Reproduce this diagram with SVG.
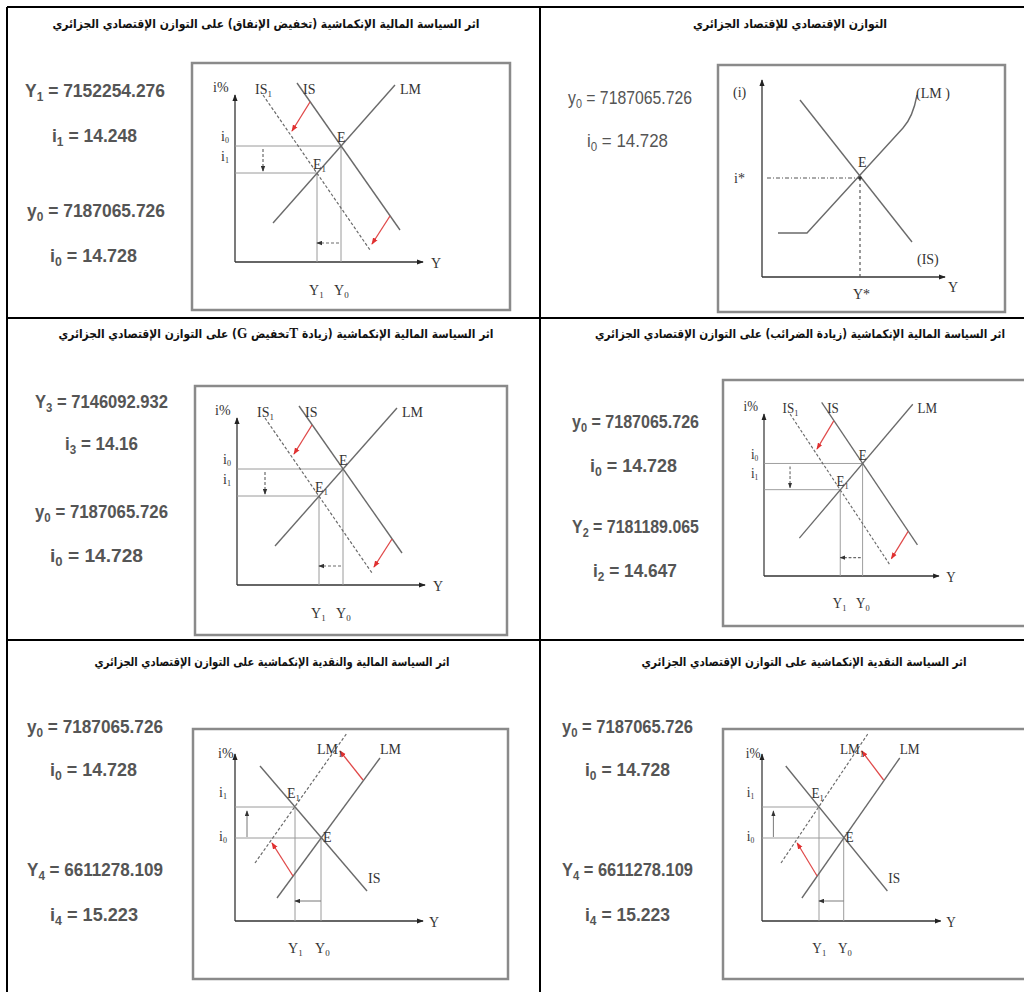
<svg xmlns="http://www.w3.org/2000/svg" xmlns:xlink="http://www.w3.org/1999/xlink" width="1024" height="992" viewBox="0 0 1024 992">
<style>
.grid{stroke:#000;stroke-width:2;fill:none}
.frame{stroke:#8a8a8a;stroke-width:2.5;fill:#fff}
.ax{stroke:#333;stroke-width:1.3;fill:none}
.cv{stroke:#6a6a6a;stroke-width:1.4;fill:none}
.ds{stroke:#6a6a6a;stroke-width:1.2;stroke-dasharray:3 2;fill:none}
.gl{stroke:#9a9a9a;stroke-width:1;fill:none}
.sm{stroke:#777;stroke-width:1;fill:none}
.red{stroke:#e04848;stroke-width:1.3;fill:none}
.lb{font-family:"Liberation Serif",serif;font-size:14px;fill:#333}
.val{font-family:"Liberation Sans",sans-serif;font-size:19px;font-weight:bold;fill:#555}
.ttl{font-family:"DejaVu Sans","Noto Sans",sans-serif;font-size:12px;font-weight:bold;fill:#111;direction:rtl;unicode-bidi:embed;text-anchor:middle}
.lat{font-family:"Liberation Serif",serif;font-weight:bold;font-size:15px}
</style>
<defs>
<marker id="ah" viewBox="0 0 8 6" refX="7" refY="3" markerWidth="7" markerHeight="5.5" markerUnits="userSpaceOnUse" orient="auto"><path d="M0,0 L8,3 L0,6 z" fill="#222"/></marker>
<marker id="ahs" viewBox="0 0 8 6" refX="7" refY="3" markerWidth="6" markerHeight="5" markerUnits="userSpaceOnUse" orient="auto"><path d="M0,0 L8,3 L0,6 z" fill="#333"/></marker>
<marker id="ahr" viewBox="0 0 8 6" refX="7" refY="3" markerWidth="7" markerHeight="6" markerUnits="userSpaceOnUse" orient="auto"><path d="M0,0 L8,3 L0,6 z" fill="#e03030"/></marker>
<g id="isChart">
<line class="ax" x1="0" y1="0" x2="0" y2="-167" marker-end="url(#ah)"/>
<line class="ax" x1="0" y1="0" x2="188" y2="0" marker-end="url(#ah)"/>
<line class="gl" x1="0" y1="-116" x2="106" y2="-116"/>
<line class="gl" x1="0" y1="-89" x2="82" y2="-89"/>
<line class="gl" x1="106" y1="-116" x2="106" y2="0"/>
<line class="gl" x1="82" y1="-89" x2="82" y2="0"/>
<line class="cv" x1="62" y1="-179" x2="165" y2="-32"/>
<line class="cv" x1="38" y1="-39" x2="160" y2="-177"/>
<line class="ds" x1="28" y1="-167" x2="135" y2="-12"/>
<line class="ds" x1="28" y1="-113" x2="28" y2="-91" marker-end="url(#ahs)"/>
<line class="ds" x1="104" y1="-19" x2="82" y2="-19" marker-end="url(#ahs)"/>
<line class="red" x1="75" y1="-160" x2="57" y2="-131" marker-end="url(#ahr)"/>
<line class="red" x1="155" y1="-46" x2="137" y2="-18" marker-end="url(#ahr)"/>
<text class="lb" x="-22" y="-170" font-size="12">i%</text>
<text class="lb" x="20" y="-168">IS<tspan font-size="9" dy="3">1</tspan></text>
<text class="lb" x="68" y="-168">IS</text>
<text class="lb" x="165" y="-168">LM</text>
<text class="lb" x="196" y="6" font-size="16">Y</text>
<text class="lb" x="74" y="33">Y<tspan font-size="9" dy="3">1</tspan></text>
<text class="lb" x="99" y="33">Y<tspan font-size="9" dy="3">0</tspan></text>
<text class="lb" x="-14" y="-121" font-size="11">i<tspan font-size="8" dy="2">0</tspan></text>
<text class="lb" x="-14" y="-101" font-size="11">i<tspan font-size="8" dy="2">1</tspan></text>
<text class="lb" x="102" y="-120">E</text>
<text class="lb" x="78" y="-93">E<tspan font-size="9" dy="3">1</tspan></text>
</g>
<g id="lmChart">
<line class="ax" x1="0" y1="0" x2="0" y2="-167" marker-end="url(#ah)"/>
<line class="ax" x1="0" y1="0" x2="188" y2="0" marker-end="url(#ah)"/>
<line class="gl" x1="0" y1="-114" x2="60" y2="-114"/>
<line class="gl" x1="0" y1="-83" x2="86" y2="-83"/>
<line class="gl" x1="60" y1="-114" x2="60" y2="0"/>
<line class="gl" x1="86" y1="-83" x2="86" y2="0"/>
<line class="cv" x1="25" y1="-155" x2="132" y2="-30"/>
<line class="cv" x1="42" y1="-23" x2="145" y2="-163"/>
<line class="ds" x1="20" y1="-58" x2="112" y2="-188"/>
<line class="sm" x1="12" y1="-84" x2="12" y2="-110" marker-end="url(#ahs)"/>
<line class="sm" x1="86" y1="-20" x2="60" y2="-20" marker-end="url(#ahs)"/>
<line class="red" x1="128" y1="-141" x2="105" y2="-170" marker-end="url(#ahr)"/>
<line class="red" x1="58" y1="-45" x2="37" y2="-78" marker-end="url(#ahr)"/>
<text class="lb" x="-17" y="-163" font-size="12">i%</text>
<text class="lb" x="82" y="-167">LM<tspan font-size="9" dy="3">1</tspan></text>
<text class="lb" x="145" y="-167">LM</text>
<text class="lb" x="133" y="-38">IS</text>
<text class="lb" x="52" y="-123">E<tspan font-size="9" dy="3">1</tspan></text>
<text class="lb" x="88" y="-79">E</text>
<text class="lb" x="-16" y="-124" font-size="11">i<tspan font-size="8" dy="2">1</tspan></text>
<text class="lb" x="-16" y="-80" font-size="11">i<tspan font-size="8" dy="2">0</tspan></text>
<text class="lb" x="53" y="32">Y<tspan font-size="9" dy="3">1</tspan></text>
<text class="lb" x="80" y="32">Y<tspan font-size="9" dy="3">0</tspan></text>
<text class="lb" x="194" y="6" font-size="15">Y</text>
</g>
</defs>

<g id="connectors">
<line class="grid" x1="7" y1="7" x2="1024" y2="7"/>
<line class="grid" x1="7" y1="7" x2="7" y2="992"/>
<line class="grid" x1="540" y1="7" x2="540" y2="992"/>
<line class="grid" x1="7" y1="318" x2="1024" y2="318"/>
<line class="grid" x1="7" y1="640" x2="1024" y2="640"/>
</g>

<g id="cell-1">
<text class="ttl" x="266" y="28" textLength="427" lengthAdjust="spacingAndGlyphs">اثر السياسة المالية الإنكماشية (تخفيض الإنفاق) على التوازن الإقتصادي الجزائري</text>
<text class="val" x="25" y="97" textLength="140" lengthAdjust="spacingAndGlyphs">Y<tspan font-size="13" dy="4">1</tspan><tspan dy="-4"> = 7152254.276</tspan></text>
<text class="val" x="52" y="142" textLength="85" lengthAdjust="spacingAndGlyphs">i<tspan font-size="13" dy="4">1</tspan><tspan dy="-4"> = 14.248</tspan></text>
<text class="val" x="27" y="217" textLength="138" lengthAdjust="spacingAndGlyphs">y<tspan font-size="13" dy="4">0</tspan><tspan dy="-4"> = 7187065.726</tspan></text>
<text class="val" x="50" y="262" textLength="87" lengthAdjust="spacingAndGlyphs">i<tspan font-size="13" dy="4">0</tspan><tspan dy="-4"> = 14.728</tspan></text>
<rect class="frame" x="192" y="63" width="318" height="247"/>
<use xlink:href="#isChart" transform="translate(235,262)"/>
</g>

<g id="cell-2">
<text class="ttl" x="790" y="28" textLength="194" lengthAdjust="spacingAndGlyphs">التوازن الإقتصادي للإقتصاد الجزائري</text>
<text class="val" x="568" y="104" textLength="124" lengthAdjust="spacingAndGlyphs" style="font-weight:normal">y<tspan font-size="13" dy="4">0</tspan><tspan dy="-4"> = 7187065.726</tspan></text>
<text class="val" x="587" y="147" textLength="81" lengthAdjust="spacingAndGlyphs" style="font-weight:normal">i<tspan font-size="13" dy="4">0</tspan><tspan dy="-4"> = 14.728</tspan></text>
<rect class="frame" x="718" y="65" width="287" height="247"/>
<line class="ax" x1="762" y1="277" x2="762" y2="80" marker-end="url(#ah)"/>
<line class="ax" x1="762" y1="277" x2="945" y2="277" marker-end="url(#ah)"/>
<line x1="767" y1="178" x2="860" y2="178" stroke="#555" stroke-width="1" stroke-dasharray="4 2 1 2"/>
<line x1="860" y1="178" x2="860" y2="277" stroke="#555" stroke-width="1.2" stroke-dasharray="3 3"/>
<path class="cv" d="M778,233 L807,233 L903,128 Q913,117 917,95"/>
<line class="cv" x1="800" y1="100" x2="912" y2="242"/>
<circle cx="860" cy="178" r="1.8" fill="#333"/>
<text class="lb" x="733" y="97" font-size="16">(i)</text>
<text class="lb" x="916" y="98" font-size="17">(LM )</text>
<text class="lb" x="917" y="264" font-size="17">(IS)</text>
<text class="lb" x="948" y="292" font-size="22">Y</text>
<text class="lb" x="853" y="299" font-size="12">Y*</text>
<text class="lb" x="734" y="183" font-size="15">i*</text>
<text class="lb" x="858" y="167" font-size="11">E</text>
</g>

<g id="cell-3">
<text class="ttl" x="276" y="338" textLength="435" lengthAdjust="spacingAndGlyphs">اثر السياسة المالية الإنكماشية (زيادة <tspan class="lat">T</tspan>تخفيض <tspan class="lat">G</tspan>) على التوازن الإقتصادي الجزائري</text>
<text class="val" x="35" y="408" textLength="133" lengthAdjust="spacingAndGlyphs">Y<tspan font-size="13" dy="4">3</tspan><tspan dy="-4"> = 7146092.932</tspan></text>
<text class="val" x="65" y="450" textLength="73" lengthAdjust="spacingAndGlyphs">i<tspan font-size="13" dy="4">3</tspan><tspan dy="-4"> = 14.16</tspan></text>
<text class="val" x="35" y="518" textLength="133" lengthAdjust="spacingAndGlyphs">y<tspan font-size="13" dy="4">0</tspan><tspan dy="-4"> = 7187065.726</tspan></text>
<text class="val" x="50" y="562" textLength="93" lengthAdjust="spacingAndGlyphs">i<tspan font-size="13" dy="4">0</tspan><tspan dy="-4"> = 14.728</tspan></text>
<rect class="frame" x="195" y="386" width="312" height="249"/>
<use xlink:href="#isChart" transform="translate(237,585)"/>
</g>

<g id="cell-4">
<text class="ttl" x="800" y="338" textLength="410" lengthAdjust="spacingAndGlyphs">اثر السياسة المالية الإنكماشية (زيادة الضرائب) على التوازن الإقتصادي الجزائري</text>
<text class="val" x="572" y="428" textLength="127" lengthAdjust="spacingAndGlyphs">y<tspan font-size="13" dy="4">0</tspan><tspan dy="-4"> = 7187065.726</tspan></text>
<text class="val" x="590" y="472" textLength="87" lengthAdjust="spacingAndGlyphs">i<tspan font-size="13" dy="4">0</tspan><tspan dy="-4"> = 14.728</tspan></text>
<text class="val" x="572" y="533" textLength="127" lengthAdjust="spacingAndGlyphs">Y<tspan font-size="13" dy="4">2</tspan><tspan dy="-4"> = 7181189.065</tspan></text>
<text class="val" x="593" y="577" textLength="84" lengthAdjust="spacingAndGlyphs">i<tspan font-size="13" dy="4">2</tspan><tspan dy="-4"> = 14.647</tspan></text>
<rect class="frame" x="723" y="380" width="303" height="246"/>
<use xlink:href="#isChart" transform="translate(764,576) scale(0.93,0.97)"/>
</g>

<g id="cell-5">
<text class="ttl" x="272" y="666" textLength="355" lengthAdjust="spacingAndGlyphs">اثر السياسة المالية والنقدية الإنكماشية على التوازن الإقتصادي الجزائري</text>
<text class="val" x="27" y="733" textLength="136" lengthAdjust="spacingAndGlyphs">y<tspan font-size="13" dy="4">0</tspan><tspan dy="-4"> = 7187065.726</tspan></text>
<text class="val" x="50" y="776" textLength="87" lengthAdjust="spacingAndGlyphs">i<tspan font-size="13" dy="4">0</tspan><tspan dy="-4"> = 14.728</tspan></text>
<text class="val" x="27" y="876" textLength="136" lengthAdjust="spacingAndGlyphs">Y<tspan font-size="13" dy="4">4</tspan><tspan dy="-4"> = 6611278.109</tspan></text>
<text class="val" x="50" y="921" textLength="88" lengthAdjust="spacingAndGlyphs">i<tspan font-size="13" dy="4">4</tspan><tspan dy="-4"> = 15.223</tspan></text>
<rect class="frame" x="193" y="729" width="315" height="250"/>
<use xlink:href="#lmChart" transform="translate(235,921)"/>
</g>

<g id="cell-6">
<text class="ttl" x="804" y="666" textLength="325" lengthAdjust="spacingAndGlyphs">اثر السياسة النقدية الإنكماشية على التوازن الإقتصادي الجزائري</text>
<text class="val" x="562" y="733" textLength="131" lengthAdjust="spacingAndGlyphs">y<tspan font-size="13" dy="4">0</tspan><tspan dy="-4"> = 7187065.726</tspan></text>
<text class="val" x="585" y="776" textLength="85" lengthAdjust="spacingAndGlyphs">i<tspan font-size="13" dy="4">0</tspan><tspan dy="-4"> = 14.728</tspan></text>
<text class="val" x="562" y="876" textLength="131" lengthAdjust="spacingAndGlyphs">Y<tspan font-size="13" dy="4">4</tspan><tspan dy="-4"> = 6611278.109</tspan></text>
<text class="val" x="585" y="921" textLength="85" lengthAdjust="spacingAndGlyphs">i<tspan font-size="13" dy="4">4</tspan><tspan dy="-4"> = 15.223</tspan></text>
<rect class="frame" x="723" y="729" width="303" height="250"/>
<use xlink:href="#lmChart" transform="translate(762,921) scale(0.95,1)"/>
</g>
</svg>
